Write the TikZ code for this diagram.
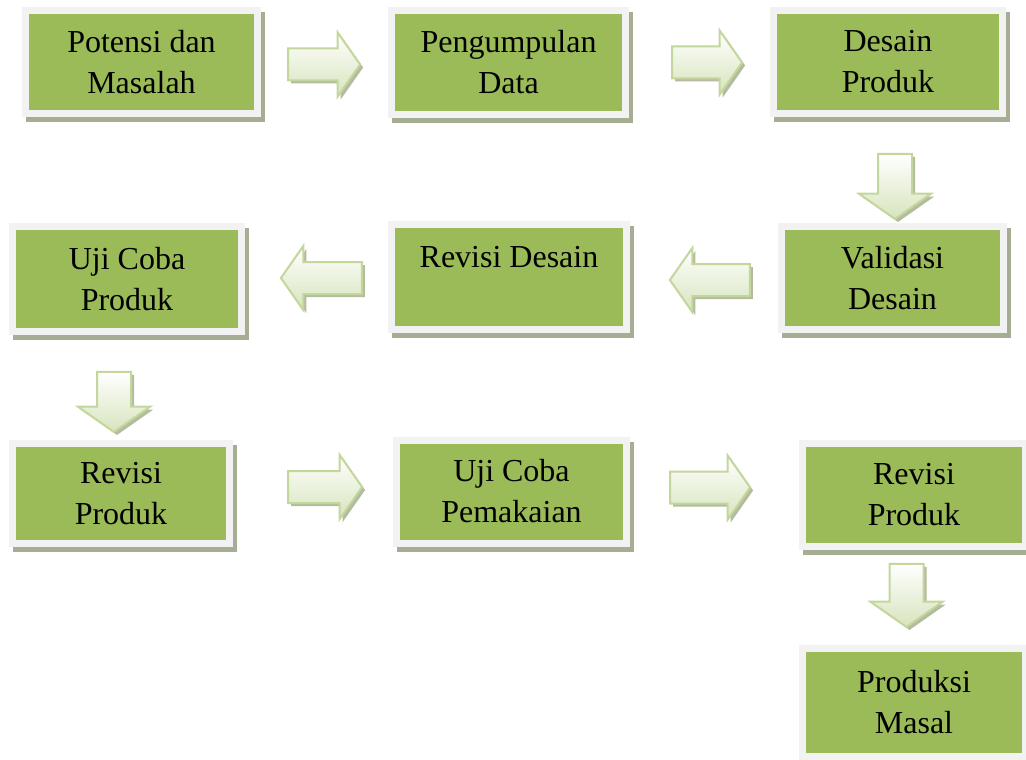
\documentclass[tikz,border=0pt]{standalone}
\usepackage{fontspec}
\setmainfont{Liberation Serif}
\usetikzlibrary{shapes.arrows}
\definecolor{boxgreen}{HTML}{9BBB59}
\definecolor{boxframe}{HTML}{F2F2F2}
\definecolor{boxshade}{HTML}{A5AD92}
\definecolor{arrowline}{HTML}{C3D69B}
\definecolor{arrowfill}{HTML}{D7E4BD}
\definecolor{arrowshade}{HTML}{B3BC9E}
\tikzstyle{stage}=[fill=boxgreen, draw=boxframe, line width=7pt, inner sep=0pt, minimum width=226pt, minimum height=103pt, align=center, font=\fontsize{32}{41}\selectfont, preaction={draw=boxshade, fill=boxshade, line width=7pt, transform canvas={shift={(4pt,-5pt)}}}]
\tikzstyle{flow}=[single arrow, draw=arrowline, line width=2pt, top color=white, bottom color=arrowfill, inner sep=0pt, text height=0pt, text depth=0pt, inner ysep=15pt, single arrow head extend=16pt, single arrow tip angle=110, preaction={fill=arrowshade, transform canvas={shift={(3pt,-3pt)}}}]
\tikzstyle{rflow}=[flow]
\tikzstyle{lflow}=[flow, shape border rotate=180]
\tikzstyle{dflow}=[flow, shape border rotate=270, inner ysep=0pt, inner xsep=16pt, single arrow head extend=19pt]

\begin{document}
\begin{tikzpicture}[x=1pt, y=-1pt]
    \useasboundingbox (0, 0) rectangle (1026, 760);
    % first row
    \node[stage, minimum width=232pt] (potensi) at (141.5, 62) {Potensi dan\\Masalah};
    \node[stage, minimum width=234pt] (data) at (508.5, 62.5) {Pengumpulan\\Data};
    \node[stage, minimum width=229pt] (desain) at (888, 62) {Desain\\Produk};
    % second row
    \node[stage, minimum width=222pt] (validasi) at (892.5, 278) {Validasi\\Desain};
    \node[stage, minimum width=235pt, minimum height=105pt] (revdesain) at (509, 277) {Revisi Desain\\\mbox{}};
    \node[stage, minimum width=229pt, minimum height=105pt] (ujiproduk) at (127, 279) {Uji Coba\\Produk};
    % third row
    \node[stage, minimum width=217pt, minimum height=100pt] (revproduk) at (121, 493.5) {Revisi\\Produk};
    \node[stage, minimum width=230pt] (ujipakai) at (511.5, 491.5) {Uji Coba\\Pemakaian};
    \node[stage, minimum width=223pt] (revakhir) at (914, 495) {Revisi\\Produk};
    \node[stage, minimum width=223pt, minimum height=108pt] (masal) at (914, 702.5) {Produksi\\Masal};
    % block arrows
    \node[rflow, minimum height=72pt] (a1) at (318.5, 64.5) {};
    \node[rflow, minimum height=70pt] (a2) at (701.5, 62.5) {};
    \node[dflow, minimum height=65pt] (a3) at (895, 180.5) {};
    \node[lflow, minimum height=80pt] (a4) at (715.5, 280) {};
    \node[lflow, minimum height=81pt] (a5) at (327, 278) {};
    \node[dflow, minimum height=60pt] (a6) at (114, 396) {};
    \node[rflow, minimum height=74pt] (a7) at (319.5, 487) {};
    \node[rflow, minimum height=80pt] (a8) at (704.5, 487.5) {};
    \node[dflow, minimum height=63pt] (a9) at (906.5, 589.5) {};
\end{tikzpicture}
\end{document}
